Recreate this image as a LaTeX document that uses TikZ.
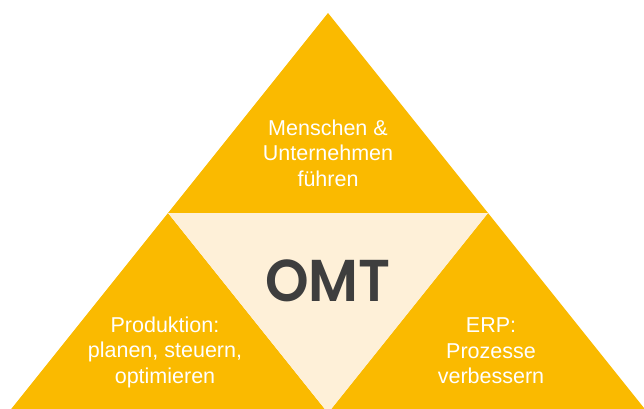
\documentclass[tikz,border=0pt]{standalone}
\usepackage{fontspec}
\setmainfont{Liberation Sans}
\newfontfamily\logofont{Poppins}[BoldFont={Poppins SemiBold}]
\usepackage{xcolor}
\definecolor{omtyellow}{RGB}{250,186,0}
\definecolor{omtcream}{RGB}{254,240,216}
\definecolor{omtgrey}{RGB}{62,62,62}
\newcommand{\segment}[4] % colour, then the three corners
{
	% fill one triangle
	\fill[#1] #2 -- #3 -- #4 -- cycle;
}

\begin{document}
\begin{tikzpicture}[x=1pt, y=1pt, every node/.style={align=center}]
	% 644 x 408, one unit = one pixel
	\useasboundingbox (0, 0) rectangle (644, 408);
	\tikzset{label text/.style={text=white, font=\fontsize{21.5}{25.5}\selectfont}}
	% corners
	\coordinate (apex) at (328, 395);
	\coordinate (midleft) at (168, 195);
	\coordinate (midright) at (488, 195);
	\coordinate (tip) at (328, -5);
	\coordinate (baseleft) at (8, -5);
	\coordinate (baseright) at (648, -5);
	% four triangles
	\segment{omtyellow}{(apex)}{(midleft)}{(midright)};
	\segment{omtyellow}{(midleft)}{(baseleft)}{(tip)};
	\segment{omtyellow}{(midright)}{(tip)}{(baseright)};
	\segment{omtcream}{(midleft)}{(midright)}{(tip)};
	% texts
	\node[label text] (fuehren) at (328, 255) {Menschen \&\\Unternehmen\\führen};
	\node[label text] (produktion) at (165, 56) {Produktion:\\planen, steuern,\\optimieren};
	\node[label text] (erp) at (491, 57) {ERP:\\Prozesse\\verbessern};
	\node[text=omtgrey, xscale=0.94, font=\logofont\bfseries\fontsize{59}{59}\selectfont] (omt) at (328, 127) {OMT};
\end{tikzpicture}
\end{document}
